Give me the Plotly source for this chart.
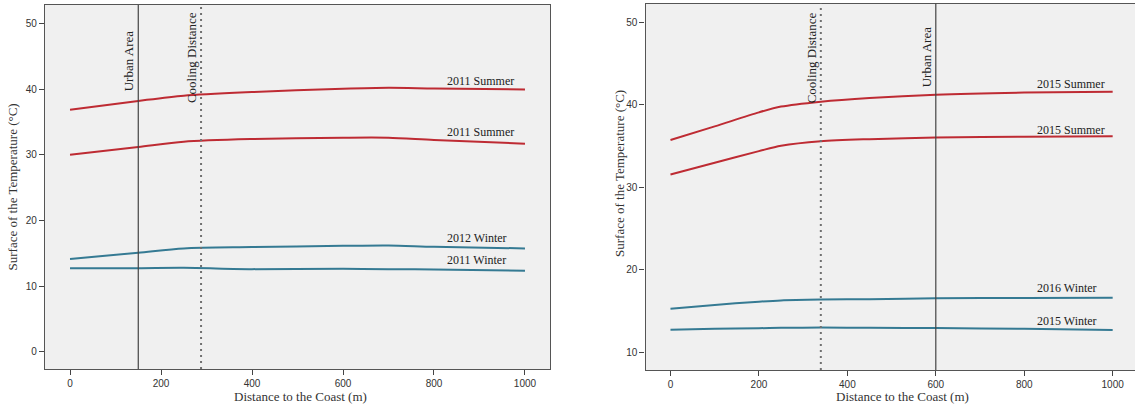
import plotly.graph_objects as go

# Distance to the coast (m) at which the smoothed profiles are sampled
dist_left = [0, 150, 250, 400, 600, 700, 800, 1000]
dist_right = [0, 100, 200, 250, 340, 450, 600, 800, 1000]

# Left panel: 2011-2012 surface temperature profiles (°C)
summer_2011_a = [36.85, 38.2, 39.0, 39.55, 40.05, 40.2, 40.1, 39.95]
summer_2011_b = [30.0, 31.2, 32.0, 32.4, 32.6, 32.6, 32.25, 31.7]
winter_2012 = [14.15, 15.1, 15.75, 15.95, 16.15, 16.2, 16.0, 15.75]
winter_2011 = [12.75, 12.75, 12.8, 12.6, 12.65, 12.6, 12.55, 12.35]

# Right panel: 2015-2016 surface temperature profiles (°C)
summer_2015_a = [35.75, 37.4, 39.1, 39.8, 40.4, 40.85, 41.25, 41.5, 41.6]
summer_2015_b = [31.57, 33.0, 34.4, 35.05, 35.6, 35.85, 36.05, 36.15, 36.2]
winter_2016 = [15.3, 15.75, 16.15, 16.3, 16.4, 16.45, 16.55, 16.6, 16.63]
winter_2015 = [12.75, 12.85, 12.93, 12.97, 13.0, 12.98, 12.95, 12.85, 12.7]

# Series labels and the reference distances marked on each panel
left_labels = ["2011 Summer", "2011 Summer", "2012 Winter", "2011 Winter"]
left_label_y = [41.3, 33.5, 17.4, 13.95]
right_labels = ["2015 Summer", "2015 Summer", "2016 Winter", "2015 Winter"]
right_label_y = [42.55, 37.0, 17.8, 13.85]
label_x = 824

left_urban, left_cooling = 150, 288
right_cooling, right_urban = 340, 600

x_ticks = [0, 200, 400, 600, 800, 1000]
left_y_ticks = [0, 10, 20, 30, 40, 50]
right_y_ticks = [10, 20, 30, 40, 50]

RED = "#BE2B33"
TEAL = "#357A93"
SERIF = "Liberation Serif"
SANS = "Liberation Sans"
W, H = 1135, 407

fig = go.Figure()

left_series = [(summer_2011_a, RED), (summer_2011_b, RED), (winter_2012, TEAL), (winter_2011, TEAL)]
right_series = [(summer_2015_a, RED), (summer_2015_b, RED), (winter_2016, TEAL), (winter_2015, TEAL)]

for ys, col in left_series:
    fig.add_trace(go.Scatter(x=dist_left, y=ys, mode="lines", xaxis="x", yaxis="y",
                             line=dict(color=col, width=2, shape="spline", smoothing=0.8),
                             showlegend=False, hoverinfo="skip"))
for ys, col in right_series:
    fig.add_trace(go.Scatter(x=dist_right, y=ys, mode="lines", xaxis="x2", yaxis="y2",
                             line=dict(color=col, width=2, shape="spline", smoothing=0.8),
                             showlegend=False, hoverinfo="skip"))

axis_common = dict(showgrid=False, zeroline=False, showline=True, mirror=True,
                   linecolor="#555555", linewidth=1.2, ticks="outside", ticklen=5,
                   tickcolor="#444444", tickwidth=1.2,
                   tickfont=dict(family=SANS, size=10, color="#333333"))

fig.update_layout(
    width=W, height=H, margin=dict(l=0, r=0, t=0, b=0),
    paper_bgcolor="white", plot_bgcolor="#F0F0F0",
    xaxis=dict(domain=[45 / W, 550 / W], range=[-55, 1055], tickvals=x_ticks,
               anchor="y", **axis_common),
    yaxis=dict(domain=[1 - 369 / H, 1 - 5 / H], range=[-2.6, 52.8], tickvals=left_y_ticks,
               anchor="x", **axis_common),
    xaxis2=dict(domain=[645.5 / W, 1.0], range=[-56.5, 1050.5], tickvals=x_ticks,
                anchor="y2", **axis_common),
    yaxis2=dict(domain=[1 - 370 / H, 1 - 3.5 / H], range=[7.86, 52.3], tickvals=right_y_ticks,
                anchor="x2", **axis_common),
)

# Reference lines: urban area (solid) and cooling distance (dotted)
for xr, yr, xv, dash, w, col in [("x", "y domain", left_urban, "solid", 1.2, "#444444"),
                                 ("x", "y domain", left_cooling, "2px,4px", 2, "#707070"),
                                 ("x2", "y2 domain", right_cooling, "2px,4px", 2, "#707070"),
                                 ("x2", "y2 domain", right_urban, "solid", 1.2, "#444444")]:
    fig.add_shape(type="line", xref=xr, yref=yr, x0=xv, x1=xv, y0=0, y1=1,
                  line=dict(color=col, width=w, dash=dash), layer="above")

for xr, xv, text, yc in [("x", left_urban, "Urban Area", 61),
                         ("x", left_cooling, "Cooling Distance", 58),
                         ("x2", right_cooling, "Cooling Distance", 57.5),
                         ("x2", right_urban, "Urban Area", 56.5)]:
    fig.add_annotation(x=xv, xref=xr, y=1 - yc / H, yref="paper", text=text,
                       textangle=-90, showarrow=False, xanchor="center", yanchor="middle",
                       xshift=-9, font=dict(family=SERIF, size=13, color="#222222"))

for txt, yv in zip(left_labels, left_label_y):
    fig.add_annotation(x=label_x, y=yv, xref="x", yref="y", text=txt, showarrow=False,
                       xanchor="left", yanchor="middle",
                       font=dict(family=SERIF, size=12, color="#222222"))
for txt, yv in zip(right_labels, right_label_y):
    fig.add_annotation(x=label_x, y=yv, xref="x2", yref="y2", text=txt, showarrow=False,
                       xanchor="left", yanchor="middle",
                       font=dict(family=SERIF, size=12, color="#222222"))

# Axis titles
title_font = dict(family=SERIF, size=13, color="#333333")
fig.add_annotation(x=300 / W, y=1 - 396 / H, xref="paper", yref="paper",
                   text="Distance to the Coast (m)", showarrow=False,
                   xanchor="center", yanchor="middle", font=title_font)
fig.add_annotation(x=902 / W, y=1 - 396 / H, xref="paper", yref="paper",
                   text="Distance to the Coast (m)", showarrow=False,
                   xanchor="center", yanchor="middle", font=title_font)
fig.add_annotation(x=12 / W, y=1 - 187.5 / H, xref="paper", yref="paper",
                   text="Surface of the Temperature (°C)", showarrow=False, textangle=-90,
                   xanchor="center", yanchor="middle", font=title_font)
fig.add_annotation(x=619 / W, y=1 - 174 / H, xref="paper", yref="paper",
                   text="Surface of the Temperature (°C)", showarrow=False, textangle=-90,
                   xanchor="center", yanchor="middle", font=title_font)

fig.write_html("out.html")
